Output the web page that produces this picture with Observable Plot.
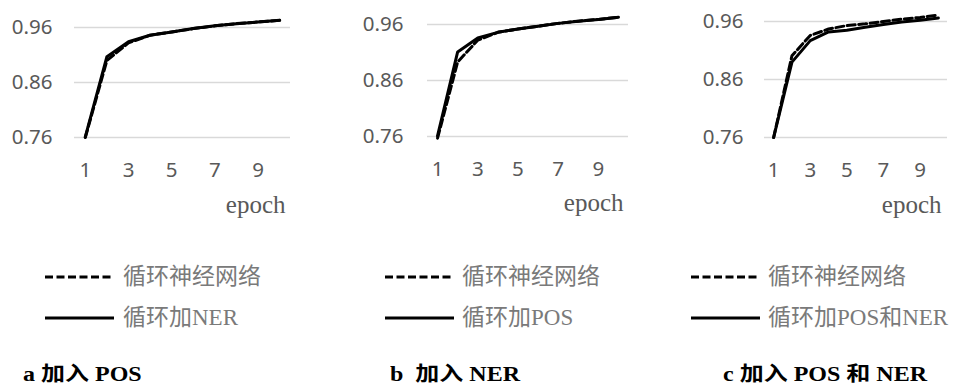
<!DOCTYPE html>
<html>
<head>
<meta charset="utf-8">
<script src="https://cdn.jsdelivr.net/npm/d3@7"></script>
<script src="https://cdn.jsdelivr.net/npm/@observablehq/plot@0.6"></script>
<style>
  body { margin: 0; background: #fff; }
  #root { position: relative; width: 956px; height: 385px; overflow: hidden; background: #fff; }
  .panel { position: absolute; top: 0; }
  .leg { position: absolute; font-family: "Liberation Serif", "Noto Sans CJK SC", serif; font-size: 23px; color: #7a7a7a; white-space: pre; line-height: 1; }
  .sw { position: absolute; }
  .cap { position: absolute; font-family: "Liberation Serif", "Noto Sans CJK SC", serif; font-weight: bold; font-size: 20px; color: #000; white-space: pre; line-height: 19px; transform: scaleX(1.2); transform-origin: left center; }
</style>
</head>
<body>
<div id="root"></div>
<script>
// ---- data ----
const epochs = [1, 2, 3, 4, 5, 6, 7, 8, 9, 10];
const xTicks = [1, 3, 5, 7, 9];
const yTicks = [0.76, 0.86, 0.96];

const aRnn = [0.760, 0.900, 0.932, 0.946, 0.952, 0.958, 0.963, 0.967, 0.970, 0.973];
const aNer = [0.761, 0.907, 0.934, 0.946, 0.952, 0.958, 0.963, 0.967, 0.970, 0.973];
const bRnn = [0.757, 0.893, 0.932, 0.946, 0.952, 0.957, 0.962, 0.966, 0.969, 0.973];
const bPos = [0.761, 0.911, 0.936, 0.946, 0.952, 0.957, 0.962, 0.966, 0.969, 0.973];
const cRnn = [0.760, 0.901, 0.936, 0.947, 0.953, 0.956, 0.960, 0.964, 0.967, 0.971];
const cBoth = [0.760, 0.890, 0.927, 0.942, 0.945, 0.950, 0.955, 0.959, 0.962, 0.966];

const legendRnn = "循环神经网络";
const legendA = "循环加NER";
const legendB = "循环加POS";
const legendC = "循环加POS和NER";
const captionA = "a 加入 POS";
const captionB = "b  加入 NER";
const captionC = "c 加入 POS 和 NER";
const xLabel = "epoch";

const panels = [
  {left: 0, width: 300, ml: 74, mr: 10, mt: 27, mb: 93, dashed: aRnn, solid: aNer, ydx: 22, edx: -5, edy: 75,
   legX: 45, legTextX: 123, legend2: legendA, capX: 23, caption: captionA},
  {left: 320, width: 320, ml: 107, mr: 12, mt: 24, mb: 94, dashed: bRnn, solid: bPos, ydx: 24, edx: -5, edy: 74,
   legX: 385, legTextX: 462, legend2: legendB, capX: 390, caption: captionB},
  {left: 636, width: 320, ml: 128, mr: 9, mt: 21, mb: 93, dashed: cRnn, solid: cBoth, ydx: 21, edx: -6, edy: 75,
   legX: 691, legTextX: 768, legend2: legendC, capX: 723, caption: captionC}
];

const root = document.getElementById("root");

for (const p of panels) {
  const dashedData = epochs.map((e, i) => ({epoch: e, value: p.dashed[i]}));
  const solidData = epochs.map((e, i) => ({epoch: e, value: p.solid[i]}));
  const chart = Plot.plot({
    width: p.width,
    height: 230,
    marginLeft: p.ml,
    marginRight: p.mr,
    marginTop: p.mt,
    marginBottom: p.mb,
    style: {fontFamily: "'Noto Sans', sans-serif", fontSize: "20.5px", color: "#595959", background: "transparent", overflow: "visible"},
    x: {domain: [0.5, 10.5], label: null},
    y: {domain: [0.76, 0.96], label: null},
    marks: [
      Plot.gridY(yTicks, {stroke: "#d9d9d9", strokeOpacity: 1, strokeWidth: 1.5}),
      Plot.axisY(yTicks, {tickSize: 0, tickPadding: p.ydx, tickFormat: d3.format(".2f"), label: null, fill: "#595959"}),
      Plot.axisX(xTicks, {tickSize: 0, tickPadding: 25, tickFormat: d => String(d), label: null, fill: "#595959"}),
      Plot.line(dashedData, {x: "epoch", y: "value", stroke: "#000", strokeWidth: 3, strokeDasharray: "8,3.5"}),
      Plot.line(solidData, {x: "epoch", y: "value", stroke: "#000", strokeWidth: 3}),
      Plot.text([xLabel], {frameAnchor: "bottom-right", text: d => d, dx: p.edx, dy: p.edy, textAnchor: "end",
        fontFamily: "Liberation Serif, serif", fontSize: 25, fill: "#595959"})
    ]
  });
  const wrap = document.createElement("div");
  wrap.className = "panel";
  wrap.style.left = p.left + "px";
  wrap.appendChild(chart);
  root.appendChild(wrap);

  // legend
  const ns = "http://www.w3.org/2000/svg";
  const rows = [{y: 277, dash: "8,3.5", label: legendRnn}, {y: 318, dash: null, label: p.legend2}];
  for (const r of rows) {
    const svg = document.createElementNS(ns, "svg");
    svg.setAttribute("class", "sw");
    svg.setAttribute("width", 72);
    svg.setAttribute("height", 10);
    svg.style.left = p.legX + "px";
    svg.style.top = (r.y - 5) + "px";
    const ln = document.createElementNS(ns, "line");
    ln.setAttribute("x1", 0); ln.setAttribute("x2", 69);
    ln.setAttribute("y1", 5); ln.setAttribute("y2", 5);
    ln.setAttribute("stroke", "#000");
    ln.setAttribute("stroke-width", 3);
    if (r.dash) ln.setAttribute("stroke-dasharray", r.dash);
    svg.appendChild(ln);
    root.appendChild(svg);
    const t = document.createElement("div");
    t.className = "leg";
    t.textContent = r.label;
    t.style.left = p.legTextX + "px";
    t.style.top = (r.y - 12) + "px";
    root.appendChild(t);
  }
  const c = document.createElement("div");
  c.className = "cap";
  c.textContent = p.caption;
  c.style.left = p.capX + "px";
  c.style.top = "365px";
  root.appendChild(c);
}
</script>
</body>
</html>
